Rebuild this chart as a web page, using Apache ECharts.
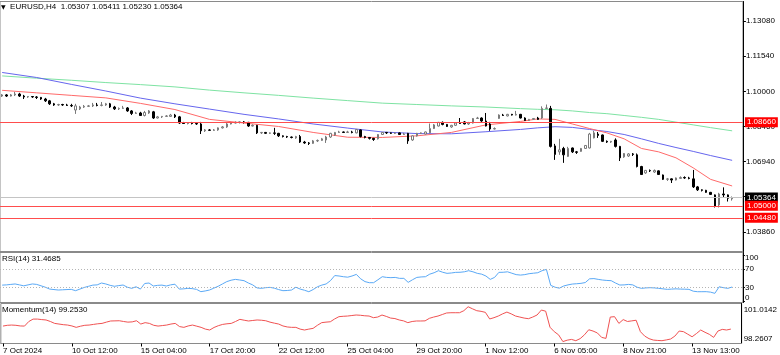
<!DOCTYPE html>
<html><head><meta charset="utf-8">
<script src="https://cdn.jsdelivr.net/npm/echarts@6/dist/echarts.min.js"></script>
<style>html,body{margin:0;padding:0;background:#fff}#c{width:780px;height:355px}</style>
</head><body><div id="c"></div>
<script>
const symbolName = 'EURUSD,H4';
const opens = [
1.0980,1.0985,1.0980,1.0985,1.0989,1.0980,1.0976,1.0978,1.0976,1.0974,
1.0967,1.0959,1.0946,1.0941,1.0943,1.0941,1.0939,1.0919,1.0924,1.0932,
1.0935,1.0937,1.0941,1.0939,1.0941,1.0946,1.0932,1.0924,1.0926,1.0928,
1.0915,1.0904,1.0906,1.0895,1.0906,1.0911,1.0884,1.0889,1.0891,1.0891,
1.0897,1.0889,1.0862,1.0860,1.0862,1.0860,1.0858,1.0828,1.0832,1.0830,
1.0832,1.0841,1.0845,1.0858,1.0862,1.0865,1.0867,1.0865,1.0849,1.0852,
1.0819,1.0821,1.0817,1.0819,1.0817,1.0806,1.0803,1.0801,1.0797,1.0803,
1.0779,1.0775,1.0773,1.0784,1.0786,1.0788,1.0801,1.0810,1.0821,1.0823,
1.0821,1.0823,1.0819,1.0832,1.0803,1.0799,1.0795,1.0793,1.0812,1.0821,
1.0819,1.0817,1.0819,1.0812,1.0817,1.0788,1.0806,1.0817,1.0814,1.0819,
1.0838,1.0849,1.0865,1.0856,1.0845,1.0852,1.0862,1.0867,1.0858,1.0862,
1.0882,1.0884,1.0871,1.0858,1.0836,1.0882,1.0897,1.0893,1.0900,1.0897,
1.0900,1.0884,1.0873,1.0878,1.0884,1.0884,1.0926,1.0926,1.0762,1.0736,
1.0751,1.0716,1.0753,1.0736,1.0738,1.0751,1.0753,1.0797,1.0814,1.0810,
1.0782,1.0779,1.0788,1.0760,1.0714,1.0718,1.0727,1.0723,1.0672,1.0644,
1.0655,1.0648,1.0653,1.0635,1.0616,1.0618,1.0613,1.0620,1.0624,1.0622,
1.0618,1.0583,1.0570,1.0568,1.0559,1.0548,1.0504,1.0552,1.0548,1.05307];
const closes = [
1.0985,1.0980,1.0985,1.0989,1.0980,1.0976,1.0978,1.0976,1.0974,1.0967,
1.0959,1.0946,1.0941,1.0943,1.0941,1.0939,1.0937,1.0937,1.0932,1.0935,
1.0937,1.0941,1.0939,1.0941,1.0946,1.0932,1.0924,1.0926,1.0928,1.0915,
1.0904,1.0906,1.0895,1.0908,1.0915,1.0884,1.0889,1.0891,1.0893,1.0897,
1.0889,1.0862,1.0860,1.0862,1.0860,1.0858,1.0828,1.0832,1.0830,1.0832,
1.0841,1.0845,1.0858,1.0862,1.0865,1.0867,1.0865,1.0849,1.0852,1.0819,
1.0821,1.0817,1.0819,1.0817,1.0806,1.0803,1.0801,1.0799,1.0803,1.0779,
1.0775,1.0773,1.0784,1.0786,1.0793,1.0801,1.0817,1.0821,1.0823,1.0821,
1.0823,1.0821,1.0834,1.0803,1.0799,1.0795,1.0790,1.0812,1.0821,1.0819,
1.0817,1.0819,1.0812,1.0814,1.0784,1.0806,1.0817,1.0819,1.0823,1.0838,
1.0854,1.0865,1.0856,1.0847,1.0852,1.0862,1.0860,1.0858,1.0862,1.0882,
1.0884,1.0871,1.0849,1.0836,1.0838,1.0897,1.0895,1.0900,1.0897,1.0900,
1.0884,1.0873,1.0878,1.0882,1.0878,1.0926,1.0928,1.0760,1.0725,1.0745,
1.0723,1.0751,1.0736,1.0734,1.0751,1.0764,1.0814,1.0819,1.0808,1.0782,
1.0779,1.0782,1.0760,1.0710,1.0729,1.0727,1.0725,1.0672,1.0637,1.0655,
1.0653,1.0655,1.0637,1.0616,1.0618,1.0613,1.0622,1.0624,1.0622,1.0620,
1.0583,1.0570,1.0568,1.0559,1.0550,1.0498,1.0552,1.0548,1.0533,1.05364];
const lows = [
1.0976,1.0976,1.0978,1.0980,1.0976,1.0967,1.0972,1.0972,1.0967,1.0963,
1.0954,1.0941,1.0937,1.0937,1.0937,1.0937,1.0932,1.0902,1.0919,1.0928,
1.0932,1.0932,1.0935,1.0935,1.0937,1.0928,1.0919,1.0919,1.0924,1.0911,
1.0897,1.0902,1.0893,1.0891,1.0902,1.0880,1.0882,1.0884,1.0889,1.0889,
1.0884,1.0858,1.0858,1.0856,1.0856,1.0854,1.0814,1.0823,1.0828,1.0828,
1.0828,1.0838,1.0841,1.0856,1.0860,1.0860,1.0860,1.0845,1.0847,1.0814,
1.0814,1.0814,1.0814,1.0810,1.0801,1.0799,1.0797,1.0795,1.0793,1.0775,
1.0771,1.0766,1.0771,1.0779,1.0784,1.0775,1.0797,1.0806,1.0819,1.0819,
1.0819,1.0817,1.0817,1.0799,1.0795,1.0790,1.0784,1.0790,1.0810,1.0814,
1.0814,1.0814,1.0810,1.0810,1.0771,1.0784,1.0803,1.0814,1.0812,1.0817,
1.0836,1.0847,1.0852,1.0845,1.0841,1.0849,1.0858,1.0856,1.0854,1.0860,
1.0880,1.0867,1.0847,1.0828,1.0834,1.0880,1.0893,1.0891,1.0895,1.0895,
1.0882,1.0871,1.0871,1.0876,1.0876,1.0880,1.0924,1.0755,1.0701,1.0723,
1.0688,1.0714,1.0731,1.0727,1.0736,1.0749,1.0751,1.0795,1.0797,1.0779,
1.0775,1.0775,1.0755,1.0696,1.0710,1.0714,1.0718,1.0668,1.0635,1.0640,
1.0648,1.0644,1.0635,1.0613,1.0609,1.0600,1.0611,1.0618,1.0618,1.0616,
1.0578,1.0565,1.0563,1.0557,1.0548,1.0493,1.0493,1.0537,1.0519,1.05230];
const highs = [
1.0989,1.0989,1.0989,1.0998,1.0994,1.0985,1.0980,1.0980,1.0980,1.0976,
1.0972,1.0963,1.0950,1.0946,1.0946,1.0946,1.0946,1.0946,1.0937,1.0941,
1.0941,1.0950,1.0950,1.0954,1.0950,1.0950,1.0937,1.0930,1.0937,1.0932,
1.0919,1.0911,1.0911,1.0915,1.0919,1.0915,1.0893,1.0893,1.0897,1.0902,
1.0902,1.0893,1.0867,1.0865,1.0867,1.0862,1.0867,1.0836,1.0836,1.0836,
1.0843,1.0849,1.0862,1.0867,1.0869,1.0869,1.0871,1.0867,1.0856,1.0854,
1.0823,1.0823,1.0821,1.0841,1.0819,1.0808,1.0806,1.0803,1.0806,1.0810,
1.0784,1.0779,1.0788,1.0790,1.0797,1.0806,1.0819,1.0823,1.0828,1.0825,
1.0828,1.0828,1.0836,1.0834,1.0806,1.0801,1.0797,1.0814,1.0823,1.0823,
1.0821,1.0821,1.0821,1.0819,1.0819,1.0808,1.0819,1.0821,1.0825,1.0860,
1.0858,1.0867,1.0869,1.0858,1.0854,1.0865,1.0884,1.0871,1.0867,1.0884,
1.0889,1.0887,1.0906,1.0867,1.0843,1.0900,1.0902,1.0902,1.0902,1.0915,
1.0902,1.0887,1.0880,1.0884,1.0889,1.0935,1.0943,1.0937,1.0771,1.0793,
1.0758,1.0758,1.0755,1.0740,1.0753,1.0766,1.0819,1.0828,1.0823,1.0812,
1.0786,1.0784,1.0795,1.0762,1.0731,1.0731,1.0731,1.0729,1.0675,1.0657,
1.0659,1.0659,1.0655,1.0637,1.0622,1.0620,1.0624,1.0629,1.0629,1.0627,
1.0657,1.0587,1.0572,1.0570,1.0561,1.0550,1.0557,1.0581,1.0550,1.05411];

// moving averages, read at these bar indices
const maIdx  = [0,8,16,24,32,40,48,56,64,72,80,88,96,104,112,120,124,128,132,136,140,144,148,152,156,160,164,169];
const maSlow = [1.1068,1.1058,1.1049,1.1039,1.1030,1.1020,1.1006,1.0994,1.0983,1.0971,1.0960,1.0949,1.0943,1.0937,1.0932,1.0925,1.0922,1.0920,1.0915,1.0908,1.0903,1.0895,1.0887,1.0878,1.0866,1.0854,1.0842,1.0828];
const maMid  = [1.1083,1.1061,1.1031,1.1002,1.0971,1.0946,1.0923,1.0900,1.0880,1.0858,1.0840,1.0823,1.0816,1.0815,1.0824,1.0834,1.0841,1.0846,1.0843,1.0834,1.0825,1.0812,1.0793,1.0773,1.0755,1.0738,1.0720,1.0699];
const maFast = [1.1005,1.0994,1.0983,1.0972,1.0948,1.0921,1.0878,1.0862,1.0847,1.0821,1.0800,1.0799,1.0806,1.0821,1.0854,1.0869,1.0880,1.0878,1.0858,1.0838,1.0819,1.0793,1.0751,1.0736,1.0710,1.0666,1.0616,1.0587];

const rsi = [
35.5,36,37,38,36,34,36,38,37,34,
31,27,26,25,25.5,26,26.4,23.6,27,30.5,
33,35.5,36,40,38,35,33,34.5,35.7,31,
28.6,32,27,39,40,33.6,35,35.5,33.6,36,
37.5,27,27.5,28.6,28,26.4,21.5,23,25,29,
33,38,43,46,47.8,46.5,45,40,36,29.5,
28.6,30,30.7,29,26,23.6,24,25,31,27,
24.5,21.4,26,32,35.5,38,45,56,55,53.5,
52.5,55,58.5,49,43,40.7,40.7,47,53.5,52,
51.5,52,50,50,41.4,47,52,53,53.5,59,
62,66.4,63,60.7,61.5,62.8,63,64,66.4,64,
60.7,59,55,47.8,52,62.8,63,64,61,58,
57,58,60,61,62,66.4,69.2,35,31,29,
33.6,36,37.8,38.5,39.3,41,49,49.5,47.8,46.4,
45.5,45,40,35.7,36,37,36,31,28.6,29.5,
30,29.5,28.6,27.5,26.4,27,27.5,27,26.8,26.4,
22.5,21.4,21.4,21.5,20.5,17.9,32,30,28.6,31.4685];
const momentum = [
99.49,99.55,99.57,99.55,99.5,99.49,99.85,100.04,100.04,100.0,
99.97,99.85,99.7,99.65,99.6,99.57,99.5,99.39,99.48,99.55,
99.57,99.62,99.67,99.7,99.8,99.89,99.9,99.91,99.85,99.8,
99.82,99.91,99.65,99.76,99.7,99.55,99.49,99.53,99.57,99.65,
99.7,99.45,99.39,99.5,99.57,99.48,99.39,99.25,99.18,99.38,
99.52,99.62,99.67,99.7,99.85,100.02,99.95,99.89,99.93,99.97,
99.95,99.91,99.8,99.72,99.65,99.5,99.42,99.39,99.39,99.25,
99.18,99.25,99.31,99.55,99.76,99.8,99.83,100.05,100.23,100.26,
100.28,100.32,100.36,100.34,100.3,100.28,100.15,100.2,100.36,100.25,
100.12,100.08,99.97,99.9,99.76,99.85,99.89,99.89,99.9,100.1,
100.2,100.28,100.4,100.52,100.54,100.54,100.54,100.7,101.01,100.85,
100.7,100.65,100.57,100.05,100.15,100.28,100.45,100.59,100.45,100.28,
100.2,100.12,100.07,100.2,100.36,100.75,100.66,99.4,99.05,98.8,
98.27,98.38,98.44,98.34,98.5,98.8,99.2,99.1,98.95,98.6,
98.52,100.2,100.23,99.7,100.0,99.85,99.9,99.95,99.05,98.7,
98.5,98.39,98.36,98.34,98.4,98.47,98.7,99.1,99.05,98.85,
98.65,98.9,99.18,99.0,98.84,98.6,99.1,99.23,99.18,99.253];

const priceTicks = [1.03860,1.05400,1.06940,1.08460,1.10000,1.11540,1.13080];
const levels = [1.08660,1.05000,1.04480];
const rsiLevels = [30,70];
const rsiScale = [0,30,70,100];
const momScale = [98.2607,101.0142];
const tickIdx = [0,16,32,48,64,80,96,112,128,144,160];
const tickLabels = ['7 Oct 2024','10 Oct 12:00','15 Oct 04:00','17 Oct 20:00','22 Oct 12:00','25 Oct 04:00','29 Oct 20:00','1 Nov 12:00','6 Nov 05:00','8 Nov 21:00','13 Nov 13:00'];

const FONT = 'Liberation Sans, Arial, sans-serif';
const FS = 8;
const N = 172;
const cats = Array.from({length: N}, (_, i) => String(i));
const last = closes.length - 1;
const bid = closes[last];
const candles = opens.map((o, i) => [o, closes[i], lows[i], highs[i]]);
const gx = {left: -3.57, width: 746.5};
const gridStyle = {show: true, borderColor: '#8a8a8a', borderWidth: 1, backgroundColor: 'transparent'};
const f5 = v => v.toFixed(5);
const RSI_MIN = -1.71, RSI_MAX = 105.35;
const rsiMaxLabel = rsiScale[rsiScale.length - 1];

const maLine = (vals, color) => ({
  type: 'line', xAxisIndex: 0, yAxisIndex: 0,
  data: maIdx.map((k, j) => [k, vals[j]]),
  symbol: 'none', silent: true, z: 3,
  lineStyle: {color: color, width: 1}
});

const chart = echarts.init(document.getElementById('c'), null, {renderer: 'canvas', width: 780, height: 355});
const titleStyle = {fontSize: FS, fontWeight: 'normal', color: '#000', fontFamily: FONT};
chart.setOption({
  animation: false,
  backgroundColor: '#ffffff',
  textStyle: {fontFamily: FONT},
  title: [
    {text: '{t|\u25BC}  ' + symbolName + '  ' + [opens[last], highs[last], lows[last], closes[last]].map(f5).join(' '),
     left: 1, top: 3, padding: 0,
     textStyle: Object.assign({}, titleStyle, {rich: {t: {fontSize: 6, color: '#000', fontFamily: 'DejaVu Sans'}}})},
    {text: 'RSI(14) ' + rsi[last].toFixed(4), left: 2, top: 254.5, padding: 0, textStyle: titleStyle},
    {text: 'Momentum(14) ' + momentum[last].toFixed(4), left: 2, top: 306, padding: 0, textStyle: titleStyle}
  ],
  graphic: [
    {type: 'text', x: 745, y: 254, z: 100, silent: true,
     style: {text: String(rsiMaxLabel), fill: '#000', font: FS + 'px ' + FONT, textVerticalAlign: 'top', verticalAlign: 'top'}}
  ],
  grid: [
    Object.assign({}, gx, gridStyle, {top: 1.5, height: 250}),
    Object.assign({}, gx, gridStyle, {top: 252.5, height: 50}),
    Object.assign({}, gx, gridStyle, {top: 303.5, height: 40})
  ],
  xAxis: [0, 1, 2].map(g => ({
    type: 'category', gridIndex: g, data: cats, boundaryGap: true,
    show: g === 2,
    axisLine: {show: true, lineStyle: {color: '#8a8a8a'}},
    axisTick: {show: true, alignWithLabel: true, length: 3, interval: i => tickIdx.includes(i), lineStyle: {color: '#000'}},
    axisLabel: {show: true, interval: i => tickIdx.includes(i),
      formatter: (v, i) => tickLabels[tickIdx.indexOf(i)] || '',
      align: 'left', margin: 3, fontSize: FS, color: '#000', fontFamily: FONT},
    splitLine: {show: false}
  })),
  yAxis: [
    {type: 'value', gridIndex: 0, position: 'right', min: 1.030057, max: 1.139323,
     splitLine: {show: false},
     axisLine: {show: true, lineStyle: {color: '#000'}},
     axisTick: {show: true, length: 3, customValues: priceTicks, lineStyle: {color: '#000'}},
     axisLabel: {customValues: priceTicks, formatter: v => f5(v), margin: 3, fontSize: FS, color: '#000', fontFamily: FONT}},
    {type: 'value', gridIndex: 1, position: 'right', min: RSI_MIN, max: RSI_MAX,
     splitLine: {show: false},
     axisLine: {show: true, lineStyle: {color: '#000'}},
     axisTick: {show: true, length: 2, customValues: rsiScale, lineStyle: {color: '#000'}},
     axisLabel: {customValues: rsiScale.slice(0, -1), margin: 2, fontSize: FS, color: '#000', fontFamily: FONT,
       showMinLabel: true, showMaxLabel: true,
       formatter: v => v === 0 ? '{up|0}' : String(v),
       rich: {up: {padding: [0, 0, 7, 0], fontSize: FS, color: '#000', fontFamily: FONT}}}},
    {type: 'value', gridIndex: 2, position: 'right', min: 98.1191, max: 101.2659,
     splitLine: {show: false},
     axisLine: {show: true, lineStyle: {color: '#000'}},
     axisTick: {show: false},
     axisLabel: {customValues: momScale, margin: 2, fontSize: FS, color: '#000', fontFamily: FONT,
       showMinLabel: true, showMaxLabel: true,
       formatter: v => v > 100 ? '{dn|' + v.toFixed(4) + '}' : '{up|' + v.toFixed(4) + '}',
       rich: {dn: {padding: [7, 0, 0, 0], fontSize: FS, color: '#000', fontFamily: FONT},
              up: {padding: [0, 0, 5, 0], fontSize: FS, color: '#000', fontFamily: FONT}}}}
  ],
  series: [
    {type: 'candlestick', xAxisIndex: 0, yAxisIndex: 0, data: candles, barWidth: 2, z: 4,
     itemStyle: {color: '#ffffff', color0: '#000000', borderColor: '#7a7a7a', borderColor0: '#000000', borderColorDoji: '#000000', borderWidth: 1},
     markLine: {
       symbol: ['none', 'none'], silent: true, animation: false, z: 6, precision: 5,
       lineStyle: {type: 'solid', width: 1},
       label: {show: true, position: 'end', distance: 2, color: '#fff', fontSize: FS, fontFamily: FONT, padding: [1, 2, 0, 2], lineHeight: 9},
       data: [{yAxis: bid, lineStyle: {color: '#c4c4c4', type: 'solid', width: 1}, label: {backgroundColor: '#000', formatter: f5(bid)}}]
         .concat(levels.map(v => ({yAxis: v, lineStyle: {color: '#ff4d4d', type: 'solid', width: 1}, label: {backgroundColor: '#ff0000', formatter: f5(v)}})))
     }},
    maLine(maSlow, '#7ee3a3'),
    maLine(maMid, '#6666ee'),
    maLine(maFast, '#ff6a6a'),
    {type: 'line', xAxisIndex: 1, yAxisIndex: 1, data: rsi, symbol: 'none', silent: true,
     lineStyle: {color: '#5aa9f6', width: 1},
     markLine: {symbol: ['none', 'none'], silent: true, label: {show: false}, precision: 2,
       lineStyle: {color: '#b4b4b4', type: [1, 2], width: 1},
       data: rsiLevels.map(v => ({yAxis: v}))}},
    {type: 'line', xAxisIndex: 2, yAxisIndex: 2, data: momentum, symbol: 'none', silent: true,
     lineStyle: {color: '#f05252', width: 1}}
  ]
});
</script>
</body></html>
